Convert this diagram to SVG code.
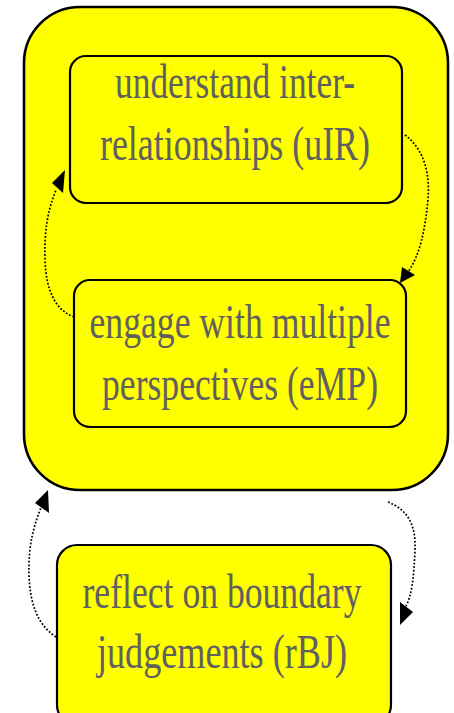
<svg xmlns="http://www.w3.org/2000/svg" width="454" height="713" viewBox="0 0 454 713">
  <style>
    .box { fill: #ffff00; stroke: #000; stroke-width: 2.2; }
    .outer { fill: #ffff00; stroke: #000; stroke-width: 2.6; }
    .label { font-family: "Liberation Serif", "Times New Roman", serif; font-size: 35px; fill: #606060; text-anchor: middle; }
    .edge { fill: none; stroke: #000; stroke-width: 1.7; stroke-dasharray: 1.8 1.8; }
  </style>

  <!-- enclosing cluster -->
  <g id="cluster">
    <rect class="outer" x="24" y="7" width="424" height="483" rx="56" ry="56"/>
  </g>

  <!-- labels use a tall, narrow serif: small size stretched vertically -->
  <g id="uIR">
    <rect class="box" x="70" y="56" width="332" height="147" rx="16" ry="16"/>
    <text class="label" transform="translate(235,98) scale(1,1.4)" textLength="240" lengthAdjust="spacingAndGlyphs">understand inter-</text>
    <text class="label" transform="translate(235,160) scale(1,1.4)" textLength="270" lengthAdjust="spacingAndGlyphs">relationships (uIR)</text>
  </g>

  <g id="eMP">
    <rect class="box" x="74" y="280" width="332" height="147" rx="16" ry="16"/>
    <text class="label" transform="translate(240,338) scale(1,1.4)" textLength="301" lengthAdjust="spacingAndGlyphs">engage  with multiple</text>
    <text class="label" transform="translate(240,400) scale(1,1.4)" textLength="276" lengthAdjust="spacingAndGlyphs">perspectives  (eMP)</text>
  </g>

  <g id="rBJ">
    <rect class="box" x="57" y="545" width="334" height="180" rx="20" ry="20"/>
    <text class="label" transform="translate(222,608) scale(1,1.4)" textLength="279" lengthAdjust="spacingAndGlyphs">reflect  on boundary</text>
    <text class="label" transform="translate(222,668) scale(1,1.4)" textLength="250" lengthAdjust="spacingAndGlyphs">judgements  (rBJ)</text>
  </g>

  <g id="connectors">
    <!-- uIR to eMP -->
    <path class="edge" d="M405,135 C425,150 430,175 428,200 C425,230 420,255 408,272" />
    <path d="M402,267 L415,275 L400,283 Z" fill="#000"/>
    <!-- eMP to uIR -->
    <path class="edge" d="M74,317 C55,310 46,290 45,260 C44,230 48,210 56,190" />
    <path d="M52,183 L65,170 L63,193 Z" fill="#000"/>
    <!-- cluster to rBJ -->
    <path class="edge" d="M388,502 C408,510 416,525 415,550 C414,575 412,595 406,606" />
    <path d="M400,602 L413,612 L400,625 Z" fill="#000"/>
    <!-- rBJ to cluster -->
    <path class="edge" d="M56,637 C38,625 30,605 29,575 C28,545 34,525 42,505" />
    <path d="M35,503 L48,490 L49,513 Z" fill="#000"/>
  </g>
</svg>
